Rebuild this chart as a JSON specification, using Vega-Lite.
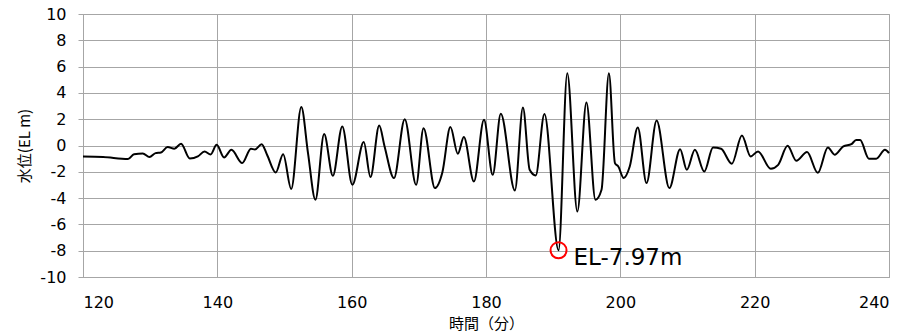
{
  "$schema": "https://vega.github.io/schema/vega-lite/v6.json",
  "autosize": {"type": "none"},
  "padding": {"left": 83, "top": 14, "right": 18, "bottom": 59},
  "width": 806,
  "height": 263,
  "config": {
    "view": {"stroke": "#a6a6a6", "strokeWidth": 1},
    "font": "DejaVu Sans"
  },
  "datasets": {
    "wave": [
      {"t": 120, "v": -0.84}, {"t": 123, "v": -0.88}, {"t": 126.7, "v": -1.03}, {"t": 127.6, "v": -0.66},
      {"t": 128.9, "v": -0.6}, {"t": 129.9, "v": -0.88}, {"t": 130.8, "v": -0.58}, {"t": 131.6, "v": -0.53},
      {"t": 132.6, "v": -0.12}, {"t": 133.6, "v": -0.25}, {"t": 134.6, "v": 0.13}, {"t": 135.9, "v": -0.99},
      {"t": 137.1, "v": -0.83}, {"t": 138.1, "v": -0.45}, {"t": 139.0, "v": -0.68}, {"t": 139.9, "v": 0.05},
      {"t": 141.0, "v": -0.91}, {"t": 142.1, "v": -0.33}, {"t": 143.7, "v": -1.34}, {"t": 145.0, "v": -0.25},
      {"t": 145.6, "v": -0.3}, {"t": 146.6, "v": 0.1}, {"t": 147.4, "v": -0.7}, {"t": 148.7, "v": -2.05},
      {"t": 149.8, "v": -0.66}, {"t": 151.0, "v": -3.3}, {"t": 152.5, "v": 2.92}, {"t": 153.5, "v": -0.58},
      {"t": 154.6, "v": -4.13}, {"t": 155.9, "v": 0.87}, {"t": 157.2, "v": -2.3}, {"t": 158.6, "v": 1.45},
      {"t": 160.1, "v": -2.99}, {"t": 161.8, "v": 0.26}, {"t": 162.8, "v": -2.4}, {"t": 164.1, "v": 1.52},
      {"t": 164.9, "v": -0.07}, {"t": 166.3, "v": -2.48}, {"t": 167.9, "v": 2.0}, {"t": 169.6, "v": -2.99},
      {"t": 170.7, "v": 1.32}, {"t": 172.4, "v": -3.24}, {"t": 173.5, "v": -2.05}, {"t": 174.7, "v": 1.4},
      {"t": 175.8, "v": -0.63}, {"t": 176.7, "v": 0.64}, {"t": 178.2, "v": -2.74}, {"t": 179.7, "v": 1.95},
      {"t": 181.0, "v": -2.23}, {"t": 182.2, "v": 2.41}, {"t": 184.3, "v": -3.42}, {"t": 185.5, "v": 2.89},
      {"t": 186.5, "v": -1.85}, {"t": 187.4, "v": -2.28}, {"t": 188.7, "v": 2.39}, {"t": 190.8, "v": -7.97},
      {"t": 192.1, "v": 5.5}, {"t": 193.6, "v": -5.02}, {"t": 194.95, "v": 3.27}, {"t": 196.3, "v": -4.13},
      {"t": 197.2, "v": -3.37}, {"t": 198.3, "v": 5.5}, {"t": 199.2, "v": -1.34}, {"t": 199.7, "v": -1.6},
      {"t": 200.5, "v": -2.48}, {"t": 201.4, "v": -1.6}, {"t": 202.6, "v": 1.37}, {"t": 203.9, "v": -2.86},
      {"t": 205.4, "v": 1.9}, {"t": 207.3, "v": -3.24}, {"t": 208.9, "v": -0.28}, {"t": 209.9, "v": -1.85},
      {"t": 211.1, "v": -0.33}, {"t": 212.5, "v": -1.98}, {"t": 213.8, "v": -0.15}, {"t": 215.0, "v": -0.25},
      {"t": 216.6, "v": -1.39}, {"t": 218.1, "v": 0.76}, {"t": 219.4, "v": -0.83}, {"t": 220.5, "v": -0.45},
      {"t": 222.4, "v": -1.77}, {"t": 223.5, "v": -1.47}, {"t": 224.9, "v": -0.02}, {"t": 226.2, "v": -1.16},
      {"t": 227.8, "v": -0.5}, {"t": 229.4, "v": -2.08}, {"t": 230.9, "v": -0.15}, {"t": 231.9, "v": -0.7},
      {"t": 233.2, "v": -0.07}, {"t": 234.4, "v": 0.1}, {"t": 235.1, "v": 0.41}, {"t": 235.7, "v": 0.41},
      {"t": 237.0, "v": -1.0}, {"t": 238.1, "v": -1.0}, {"t": 239.4, "v": -0.33}, {"t": 240, "v": -0.58}
    ],
    "mark": [{"t": 190.8, "v": -7.97, "label": "EL-7.97m"}]
  },
  "encoding": {
    "x": {
      "field": "t", "type": "quantitative",
      "scale": {"domain": [120, 240], "nice": false},
      "axis": {
        "title": "時間（分）", "values": [120, 140, 160, 180, 200, 220, 240],
        "titleFont": "Noto Sans CJK JP", "titleFontSize": 15, "titleFontWeight": "normal", "titleColor": "#000",
        "titlePadding": 6,
        "labelFont": "DejaVu Sans", "labelFontSize": 16, "labelColor": "#000", "labelPadding": 17,
        "ticks": false, "domainColor": "#a6a6a6", "gridColor": "#a6a6a6", "grid": true
      }
    },
    "y": {
      "field": "v", "type": "quantitative",
      "scale": {"domain": [-10, 10], "nice": false},
      "axis": {
        "title": "水位(EL m)", "values": [-10, -8, -6, -4, -2, 0, 2, 4, 6, 8, 10],
        "labelExpr": "replace(datum.label, '−', '-')",
        "titleFont": "Noto Sans CJK JP", "titleFontSize": 15, "titleFontWeight": "normal", "titleColor": "#000",
        "titlePadding": 7,
        "labelFont": "DejaVu Sans", "labelFontSize": 16, "labelColor": "#000", "labelPadding": 12,
        "tickSize": 5, "tickColor": "#a6a6a6", "domainColor": "#a6a6a6", "gridColor": "#a6a6a6", "grid": true
      }
    }
  },
  "layer": [
    {
      "data": {"name": "wave"},
      "mark": {"type": "line", "color": "#000", "strokeWidth": 2, "interpolate": "monotone"}
    },
    {
      "data": {"name": "mark"},
      "mark": {"type": "point", "shape": "circle", "filled": false, "stroke": "#ff0000", "strokeWidth": 2, "size": 256, "opacity": 1}
    },
    {
      "data": {"name": "mark"},
      "mark": {"type": "text", "align": "left", "baseline": "middle", "dx": 15, "dy": 8, "fontSize": 23, "font": "DejaVu Sans", "color": "#000"},
      "encoding": {"text": {"field": "label"}}
    }
  ]
}
